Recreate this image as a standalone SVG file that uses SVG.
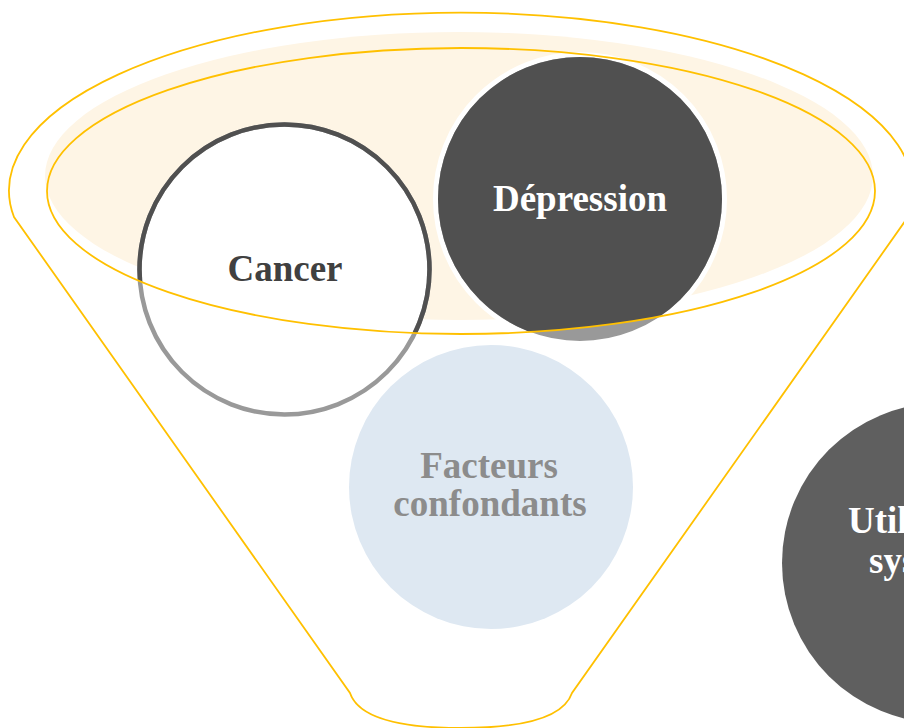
<svg xmlns="http://www.w3.org/2000/svg" width="904" height="728" viewBox="0 0 904 728">
  <defs>
    <clipPath id="rimClip">
      <ellipse cx="461" cy="191" rx="414" ry="143"/>
    </clipPath>
    <style>
      .yellow { fill: none; stroke: #FFC000; stroke-width: 1.8; }
      .lbl { font-family: "Liberation Serif", "Times New Roman", serif; font-weight: bold; font-size: 37px; text-anchor: middle; }
    </style>
  </defs>
  <rect x="0" y="0" width="904" height="728" fill="#FFFFFF"/>

  <g id="funnel">
    <path class="yellow" d="M 14 217 A 452 178 0 1 1 908 217 L 572 693 Q 560 728 461 728 Q 362 728 350 693 Z"/>
    <ellipse cx="459" cy="176" rx="414" ry="144" fill="#FEF5E5"/>
  </g>

  <g id="node-facteurs">
    <circle cx="491" cy="487" r="142" fill="#DEE8F2"/>
    <text class="lbl" x="489" y="478" fill="#8C8C8C">Facteurs</text>
    <text class="lbl" x="490" y="516" fill="#8C8C8C">confondants</text>
  </g>

  <g id="node-cancer">
    <circle cx="284.5" cy="269.5" r="145" fill="#FFFFFF" stroke="#999999" stroke-width="4.5"/>
    <circle cx="284.5" cy="269.5" r="145" fill="none" stroke="#505050" stroke-width="4.5" clip-path="url(#rimClip)"/>
    <text class="lbl" x="285" y="281" fill="#404040">Cancer</text>
  </g>

  <g id="node-depression">
    <circle cx="580" cy="199" r="144.5" fill="#999999" stroke="#FFFFFF" stroke-width="5"/>
    <circle cx="580" cy="199" r="142" fill="#505050" clip-path="url(#rimClip)"/>
    <text class="lbl" x="580" y="211" fill="#FFFFFF">Dépression</text>
  </g>

  <g id="rim">
    <ellipse class="yellow" cx="461" cy="191" rx="414" ry="143"/>
  </g>

  <g id="node-utilisation">
    <circle cx="942" cy="563" r="160" fill="#5F5F5F"/>
    <text class="lbl" x="848" y="533" fill="#FFFFFF" style="text-anchor:start">Util</text>
    <text class="lbl" x="869" y="573" fill="#FFFFFF" style="text-anchor:start">sys</text>
  </g>

  <g id="connectors"/>
</svg>
